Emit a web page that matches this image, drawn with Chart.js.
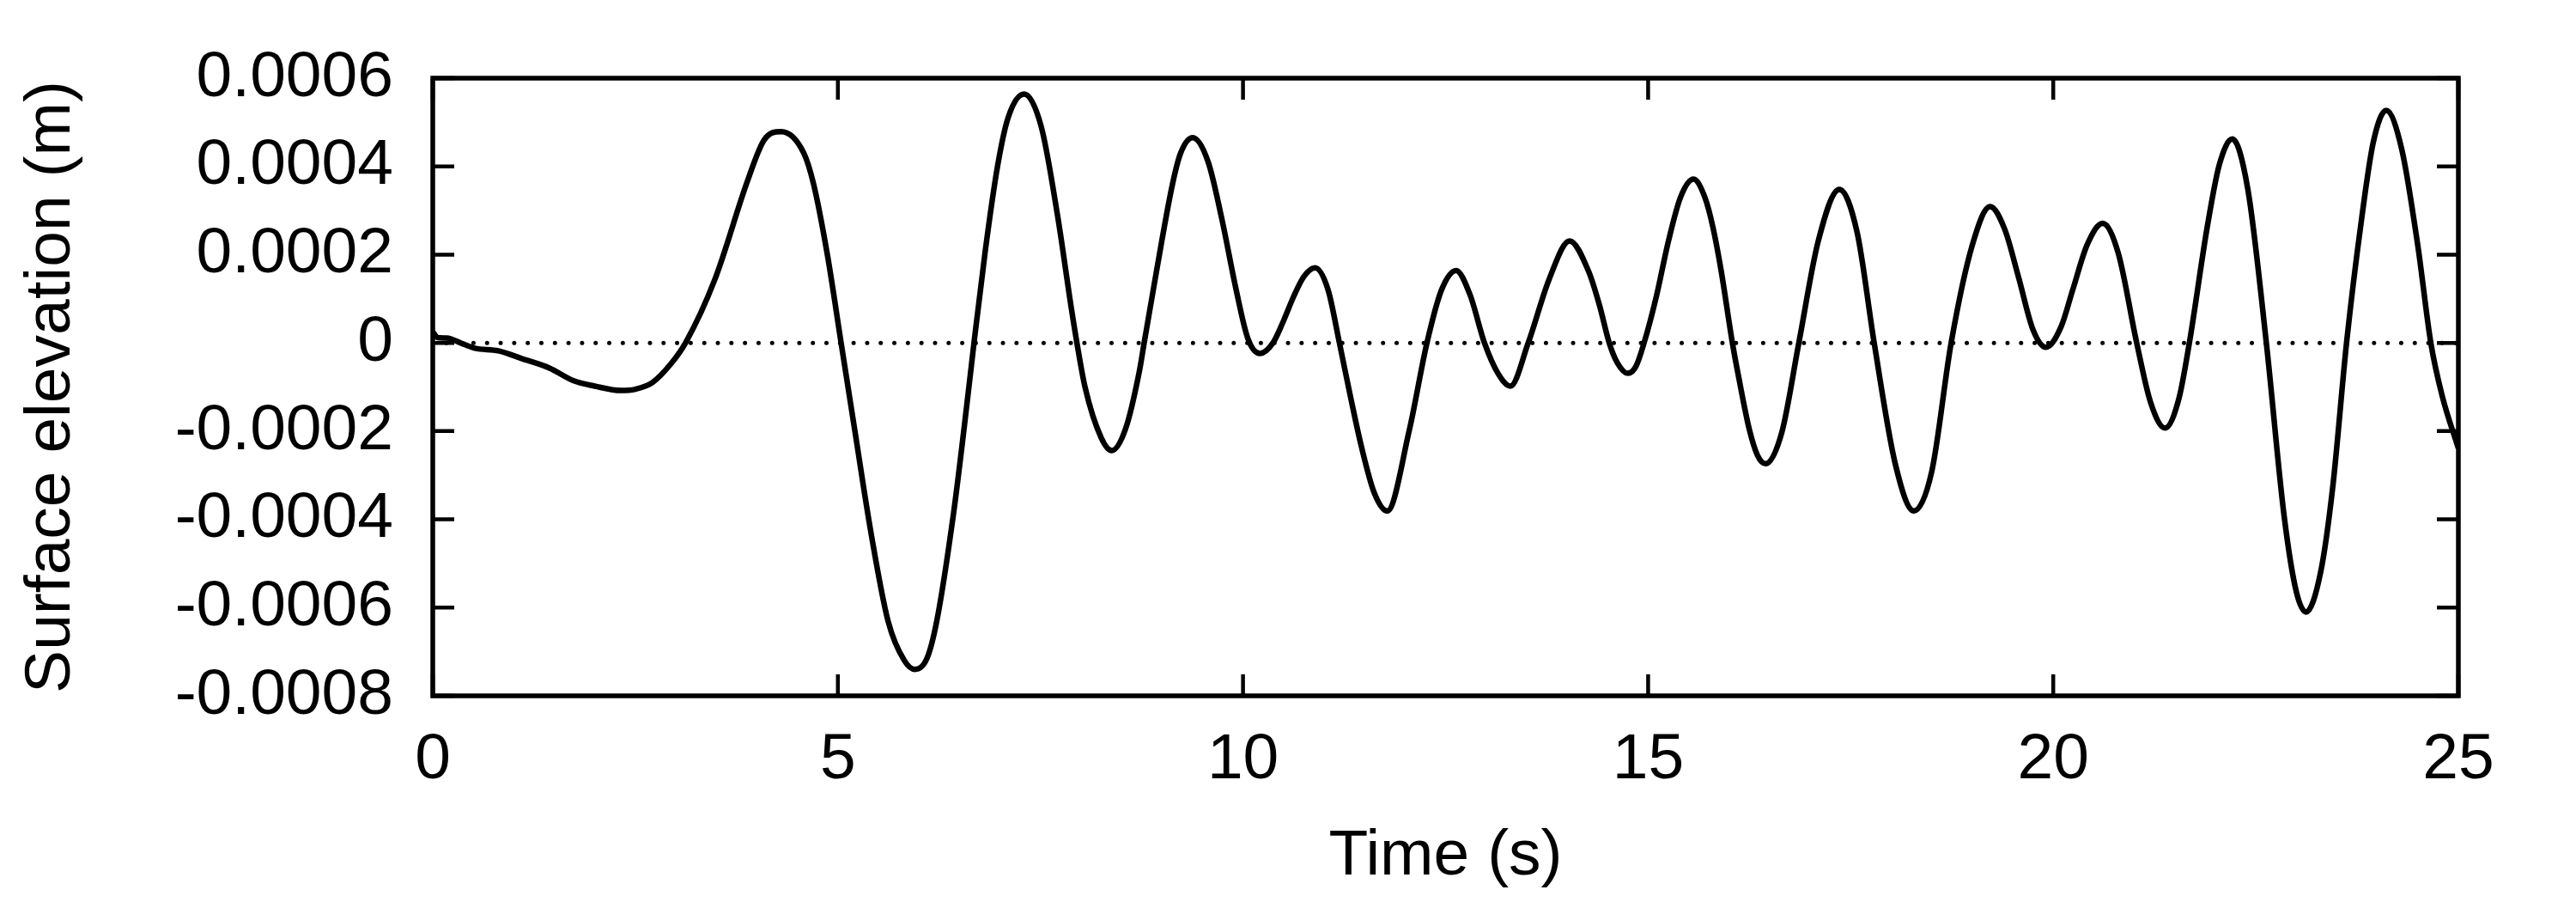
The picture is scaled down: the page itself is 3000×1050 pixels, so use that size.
<!DOCTYPE html>
<html>
<head>
<meta charset="utf-8">
<script src="https://cdn.jsdelivr.net/npm/chart.js@4/dist/chart.umd.min.js"></script>
<style>
  html, body { margin: 0; padding: 0; background: #fff; }
  #wrap { width: 3000px; height: 1050px; }
</style>
</head>
<body>
<div id="wrap"><canvas id="c" width="3000" height="1050"></canvas></div>
<script>
// ---- data ----
const TIME = [
  0.00, 0.06, 0.17, 0.38, 0.52, 0.81, 1.09, 1.44, 1.74, 2.00,
  2.32, 2.50, 2.71, 2.95, 3.12, 3.48, 3.89, 4.09, 4.30, 4.58,
  4.70, 4.87, 5.04, 5.21, 5.41, 5.62, 5.82, 5.95, 6.10, 6.22,
  6.43, 6.56, 6.68, 6.82, 6.97, 7.10, 7.30, 7.51, 7.71, 7.88,
  7.95, 8.05, 8.25, 8.38, 8.55, 8.72, 8.78, 8.93, 9.13, 9.23,
  9.38, 9.57, 9.74, 9.91, 10.06, 10.21, 10.37, 10.50, 10.62, 10.75,
  10.89, 11.05, 11.19, 11.33, 11.46, 11.62, 11.78, 12.05, 12.27, 12.45, 12.63,
  12.80, 12.98, 13.15, 13.30, 13.52, 13.78, 14.03, 14.27, 14.40, 14.52,
  14.62, 14.75, 14.85, 14.95, 15.10, 15.25, 15.40, 15.56, 15.70, 15.80,
  15.90, 16.04, 16.12, 16.25, 16.35, 16.45, 16.65, 16.86, 17.10,
  17.36, 17.58, 17.79, 18.05, 18.28, 18.50, 18.74, 19.00, 19.22, 19.40,
  19.57, 19.75, 19.91, 20.10, 20.24, 20.42, 20.61, 20.80, 21.03, 21.20,
  21.38, 21.55, 21.68, 21.90, 22.05, 22.21, 22.40, 22.63, 22.85, 23.00,
  23.12, 23.30, 23.45, 23.62, 23.80, 23.95, 24.11, 24.30, 24.50, 24.66,
  24.80, 25.00
];
const ELEVATION = [
  0.000025, 0.000012, 0.000011, -0.000003, -0.000012, -0.000018, -0.000035, -0.000057, -0.000086, -0.000098,
  -0.000108, -0.000105, -0.000090, -0.000045, 0.000000, 0.000143, 0.000370, 0.000460, 0.000479, 0.000430,
  0.000360, 0.000200, 0.000000, -0.000200, -0.000432, -0.000631, -0.000720, -0.000740, -0.000715, -0.000631,
  -0.000383, -0.000190, 0.000000, 0.000210, 0.000400, 0.000510, 0.000564, 0.000490, 0.000290, 0.000080,
  0.000000, -0.000100, -0.000215, -0.000244, -0.000195, -0.000065, 0.000000, 0.000160, 0.000360, 0.000430,
  0.000465, 0.000410, 0.000280, 0.000125, 0.000010, -0.000024, 0.000000, 0.000050, 0.000103, 0.000150,
  0.000170, 0.000120, 0.000000, -0.000125, -0.000234, -0.000340, -0.000381, -0.000200, 0.000000, 0.000120, 0.000164,
  0.000110, 0.000000, -0.000070, -0.000098, 0.000000, 0.000145, 0.000231, 0.000160, 0.000085, 0.000000,
  -0.000045, -0.000069, -0.000053, 0.000000, 0.000104, 0.000230, 0.000330, 0.000371, 0.000330, 0.000262,
  0.000165, 0.000000, -0.000080, -0.000197, -0.000255, -0.000274, -0.000203, 0.000000, 0.000231,
  0.000348, 0.000250, 0.000000, -0.000274, -0.000381, -0.000292, 0.000000, 0.000221, 0.000309, 0.000258,
  0.000150, 0.000030, -0.000010, 0.000038, 0.000120, 0.000223, 0.000271, 0.000205, 0.000000, -0.000134,
  -0.000193, -0.000127, 0.000000, 0.000262, 0.000404, 0.000462, 0.000350, 0.000000, -0.000393, -0.000564,
  -0.000610, -0.000520, -0.000326, 0.000000, 0.000273, 0.000455, 0.000527, 0.000440, 0.000220, 0.000000,
  -0.000120, -0.000239
];
const X_TICKS = [0, 5, 10, 15, 20, 25];
const Y_TICKS = [-0.0008, -0.0006, -0.0004, -0.0002, 0, 0.0002, 0.0004, 0.0006];
const Y_TICK_LABELS = ['-0.0008', '-0.0006', '-0.0004', '-0.0002', '0', '0.0002', '0.0004', '0.0006'];
const ZERO_LINE_X = [0, 25];
const ZERO_LINE_Y = [0, 0];
const X_TITLE = 'Time (s)';
const Y_TITLE = 'Surface elevation (m)';

// ---- chart ----
const FONT = '"Liberation Sans", Arial, Helvetica, sans-serif';
const TICK_LEN = 25;

const framePlugin = {
  id: 'gnuFrame',
  afterDatasetsDraw(chart) {
    const { ctx, chartArea: a, scales } = chart;
    const xs = scales.x, ys = scales.y;
    ctx.save();
    ctx.strokeStyle = '#000';
    ctx.lineCap = 'butt';
    ctx.lineWidth = 4.5;
    ctx.beginPath();
    xs.ticks.forEach(t => {
      const px = xs.getPixelForValue(t.value);
      ctx.moveTo(px, a.bottom); ctx.lineTo(px, a.bottom - TICK_LEN);
      ctx.moveTo(px, a.top); ctx.lineTo(px, a.top + TICK_LEN);
    });
    ys.ticks.forEach(t => {
      const py = ys.getPixelForValue(t.value);
      ctx.moveTo(a.left, py); ctx.lineTo(a.left + TICK_LEN, py);
      ctx.moveTo(a.right, py); ctx.lineTo(a.right - TICK_LEN, py);
    });
    ctx.stroke();
    ctx.lineWidth = 5.5;
    ctx.lineJoin = 'miter';
    ctx.strokeRect(a.left, a.top, a.right - a.left, a.bottom - a.top);
    ctx.restore();
  }
};

new Chart(document.getElementById('c'), {
  type: 'line',
  data: {
    datasets: [
      {
        label: 'elevation',
        data: TIME.map((t, i) => ({ x: t, y: ELEVATION[i] })),
        borderColor: '#000',
        borderWidth: 6.5,
        borderJoinStyle: 'round',
        pointRadius: 0,
        cubicInterpolationMode: 'monotone',
        fill: false
      },
      {
        label: 'zero',
        data: ZERO_LINE_X.map((t, i) => ({ x: t, y: ZERO_LINE_Y[i] })),
        borderColor: '#000',
        borderWidth: 5,
        borderDash: [0.01, 15.8],
        borderCapStyle: 'round',
        pointRadius: 0,
        tension: 0,
        fill: false
      }
    ]
  },
  options: {
    responsive: false,
    animation: false,
    events: [],
    layout: { padding: { left: 0, right: 137, top: 90, bottom: 0 } },
    plugins: { legend: { display: false }, tooltip: { enabled: false } },
    scales: {
      x: {
        type: 'linear',
        min: 0, max: 25,
        afterBuildTicks: s => { s.ticks = X_TICKS.map(v => ({ value: v })); },
        afterFit: s => { s.height = 240; },
        grid: { display: false, drawTicks: false },
        border: { display: false },
        ticks: {
          color: '#000',
          font: { family: FONT, size: 75 },
          padding: 30,
          maxRotation: 0,
          autoSkip: false,
          callback: v => String(v)
        },
        title: {
          display: true,
          text: X_TITLE,
          color: '#000',
          font: { family: FONT, size: 75 },
          padding: { top: 0, bottom: 8 }
        }
      },
      y: {
        type: 'linear',
        min: -0.0008, max: 0.0006,
        afterBuildTicks: s => { s.ticks = Y_TICKS.map(v => ({ value: v })); },
        afterFit: s => { s.width = 504; },
        grid: { display: false, drawTicks: false },
        border: { display: false },
        ticks: {
          color: '#000',
          font: { family: FONT, size: 75 },
          padding: 46,
          autoSkip: false,
          callback: (v, i) => Y_TICK_LABELS[i]
        },
        title: {
          display: true,
          text: Y_TITLE,
          color: '#000',
          font: { family: FONT, size: 75 },
          padding: { top: 15, bottom: 0 }
        }
      }
    }
  },
  plugins: [framePlugin]
});
</script>
</body>
</html>
